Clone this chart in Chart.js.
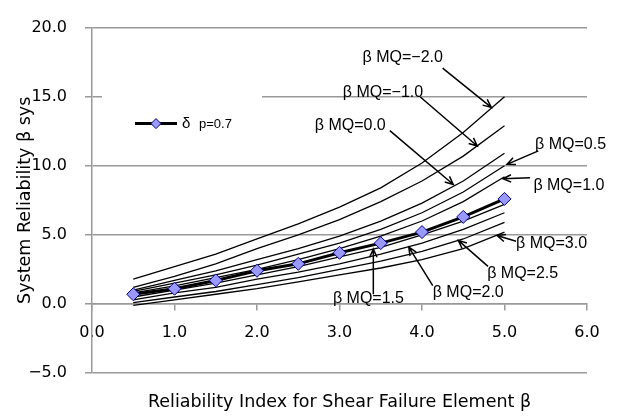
<!DOCTYPE html>
<html>
<head>
<meta charset="utf-8">
<script src="https://cdn.jsdelivr.net/npm/chart.js@4.4.1/dist/chart.umd.min.js"></script>
<style>
    html, body { margin: 0; padding: 0; background: #fff; }
    #wrap { width: 622px; height: 417px; }
</style>
</head>
<body>
<div id="wrap"><canvas id="chart" width="622" height="417"></canvas></div>
<script>
// element reliability index (x)
const betaElem = [0.5, 1.0, 1.5, 2.0, 2.5, 3.0, 3.5, 4.0, 4.5, 5.0];

// system reliability for each beta MQ level
const sysMQm20 = [1.8, 2.7, 3.6, 4.7, 5.8, 7.0, 8.4, 10.2, 12.4, 15.0];
const sysMQm10 = [1.2, 2.0, 2.9, 4.0, 5.0, 6.1, 7.4, 8.9, 10.7, 12.9];
const sysMQ00 = [1.0, 1.7, 2.4, 3.2, 4.0, 4.9, 6.0, 7.3, 8.9, 10.9];
const sysMQ05 = [0.9, 1.5, 2.1, 2.8, 3.6, 4.4, 5.4, 6.6, 8.1, 10.0];
const sysMQ10 = [0.8, 1.3, 1.9, 2.5, 3.2, 4.0, 4.9, 6.0, 7.4, 9.2];
const sysMQ15 = [0.5, 1.0, 1.5, 2.1, 2.7, 3.4, 4.1, 5.0, 6.0, 7.2];
const sysMQ20 = [0.3, 0.8, 1.2, 1.8, 2.3, 2.9, 3.6, 4.4, 5.4, 6.6];
const sysMQ25 = [0.1, 0.5, 0.9, 1.4, 1.9, 2.5, 3.1, 3.8, 4.7, 5.9];
const sysMQ30 = [-0.1, 0.3, 0.7, 1.1, 1.6, 2.1, 2.6, 3.2, 4.0, 5.2];

// delta p = 0.7 series (with markers)
const sysDeltaP07 = [0.7, 1.1, 1.7, 2.4, 2.9, 3.7, 4.4, 5.2, 6.3, 7.6];

const mqCurves = [sysMQm20, sysMQm10, sysMQ00, sysMQ05, sysMQ10, sysMQ15, sysMQ20, sysMQ25, sysMQ30];
const mqLabels = ['β MQ=−2.0', 'β MQ=−1.0', 'β MQ=0.0', 'β MQ=0.5', 'β MQ=1.0',
    'β MQ=1.5', 'β MQ=2.0', 'β MQ=2.5', 'β MQ=3.0'];
const seriesLabel = 'δ p=0.7';

const yTicks = [-5, 0, 5, 10, 15, 20];
const xTicks = [0, 1, 2, 3, 4, 5, 6];

// callouts: text position and arrow (from -> to), in data units
const notes = [
    {text: mqLabels[0], x: 3.28, y: 17.84, ax: 4.25, ay: 17.07, bx: 4.84, by: 14.22},
    {text: mqLabels[1], x: 3.04, y: 15.26, ax: 3.98, ay: 14.98, bx: 4.67, by: 11.43},
    {text: mqLabels[2], x: 2.70, y: 12.89, ax: 3.61, ay: 12.54, bx: 4.38, by: 8.64},
    {text: mqLabels[3], x: 5.37, y: 11.50, ax: 5.41, ay: 11.08, bx: 5.03, by: 10.10},
    {text: mqLabels[4], x: 5.35, y: 8.57, ax: 5.31, ay: 9.13, bx: 4.98, by: 9.06},
    {text: mqLabels[5], x: 2.92, y: 0.35, ax: 3.41, ay: 0.70, bx: 3.41, by: 3.97},
    {text: mqLabels[6], x: 4.13, y: 0.84, ax: 4.13, ay: 1.32, bx: 3.84, by: 4.11},
    {text: mqLabels[7], x: 4.79, y: 2.16, ax: 4.80, ay: 2.72, bx: 4.44, by: 4.60},
    {text: mqLabels[8], x: 5.14, y: 4.39, ax: 5.14, ay: 4.53, bx: 4.91, by: 4.95}
];

const GRID = '#999999';
const MARKER_FILL = '#9999FF';
const MARKER_EDGE = '#000080';

function fmt(v) {
    const s = Math.abs(v).toFixed(1);
    return v < 0 ? '\u2212' + s : s;
}

function drawArrow(ctx, x1, y1, x2, y2) {
    const ang = Math.atan2(y2 - y1, x2 - x1);
    const len = 9, spread = 0.42;
    ctx.beginPath();
    ctx.moveTo(x1, y1);
    ctx.lineTo(x2, y2);
    ctx.moveTo(x2 - len * Math.cos(ang - spread), y2 - len * Math.sin(ang - spread));
    ctx.lineTo(x2, y2);
    ctx.lineTo(x2 - len * Math.cos(ang + spread), y2 - len * Math.sin(ang + spread));
    ctx.stroke();
}

const calloutPlugin = {
    id: 'callouts',
    afterDatasetsDraw(chart) {
        const ctx = chart.ctx;
        const xs = chart.scales.x, ys = chart.scales.y;
        const area = chart.chartArea;
        ctx.save();

        // legend box inside the plot
        const lx = area.left + 10, ly = area.top + 68;
        ctx.fillStyle = '#fff';
        ctx.fillRect(lx, ly, 160, 44);
        ctx.strokeStyle = '#000';
        ctx.lineWidth = 3;
        ctx.beginPath();
        ctx.moveTo(lx + 33, ly + 28);
        ctx.lineTo(lx + 75, ly + 28);
        ctx.stroke();
        ctx.fillStyle = MARKER_FILL;
        ctx.strokeStyle = MARKER_EDGE;
        ctx.lineWidth = 1;
        const cx = lx + 54, cy = ly + 28, r = 5;
        ctx.beginPath();
        ctx.moveTo(cx - r, cy);
        ctx.lineTo(cx, cy - r);
        ctx.lineTo(cx + r, cy);
        ctx.lineTo(cx, cy + r);
        ctx.closePath();
        ctx.fill();
        ctx.stroke();
        ctx.fillStyle = '#000';
        ctx.textBaseline = 'middle';
        ctx.textAlign = 'left';
        const parts = seriesLabel.split(' ');
        ctx.font = '15px "Liberation Sans"';
        ctx.fillText(parts[0], lx + 80, cy);
        ctx.font = '13px "Liberation Sans"';
        ctx.fillText(parts[1], lx + 97, cy + 1);

        // beta MQ callouts
        ctx.strokeStyle = '#000';
        ctx.lineWidth = 1.5;
        ctx.font = '16px "Liberation Sans"';
        notes.forEach(n => {
            ctx.fillText(n.text, xs.getPixelForValue(n.x), ys.getPixelForValue(n.y));
            drawArrow(ctx, xs.getPixelForValue(n.ax), ys.getPixelForValue(n.ay),
                xs.getPixelForValue(n.bx), ys.getPixelForValue(n.by));
        });
        ctx.restore();
    }
};

const datasets = [{
    label: seriesLabel,
    data: betaElem.map((b, i) => ({x: b, y: sysDeltaP07[i]})),
    borderColor: '#000',
    borderWidth: 3,
    pointStyle: 'rectRot',
    pointRadius: 6.5,
    pointBackgroundColor: MARKER_FILL,
    pointBorderColor: MARKER_EDGE,
    pointBorderWidth: 1,
    order: 0
}];
mqCurves.forEach((curve, k) => {
    datasets.push({
        label: mqLabels[k],
        data: betaElem.map((b, i) => ({x: b, y: curve[i]})),
        borderColor: '#000',
        borderWidth: 1.3,
        pointRadius: 0,
        order: 1
    });
});

new Chart(document.getElementById('chart'), {
    type: 'line',
    data: {datasets: datasets},
    plugins: [calloutPlugin],
    options: {
        responsive: false,
        animation: false,
        layout: {padding: {top: 15, right: 35, bottom: 0, left: 0}},
        plugins: {
            legend: {display: false},
            tooltip: {enabled: false},
            title: {
                display: true,
                position: 'bottom',
                fullSize: false,
                text: 'Reliability Index for Shear Failure Element β',
                color: '#000',
                font: {family: 'DejaVu Sans', size: 17.5, weight: 'normal'},
                padding: {top: 19, bottom: 4}
            }
        },
        scales: {
            x: {
                type: 'linear',
                min: 0,
                max: 6,
                position: {y: 0},
                afterBuildTicks: s => { s.ticks = xTicks.map(v => ({value: v})); },
                ticks: {
                    callback: v => fmt(v),
                    color: '#000',
                    padding: 13,
                    maxRotation: 0,
                    font: {family: 'DejaVu Sans', size: 16}
                },
                grid: {drawOnChartArea: false, drawTicks: true, tickLength: 6, color: GRID, lineWidth: 1.5},
                border: {color: GRID, width: 1.5}
            },
            y: {
                type: 'linear',
                min: -5,
                max: 20,
                afterBuildTicks: s => { s.ticks = yTicks.map(v => ({value: v})); },
                afterFit: s => { s.width = 92; },
                ticks: {
                    callback: v => fmt(v),
                    color: '#000',
                    padding: 18,
                    font: {family: 'DejaVu Sans', size: 16}
                },
                grid: {color: GRID, lineWidth: 1.5, tickLength: 7},
                border: {color: GRID, width: 1.5},
                title: {
                    display: true,
                    text: 'System Reliability β sys',
                    color: '#000',
                    font: {family: 'DejaVu Sans', size: 17.5},
                    padding: {top: 15, bottom: 0}
                }
            }
        }
    }
});
</script>
</body>
</html>
